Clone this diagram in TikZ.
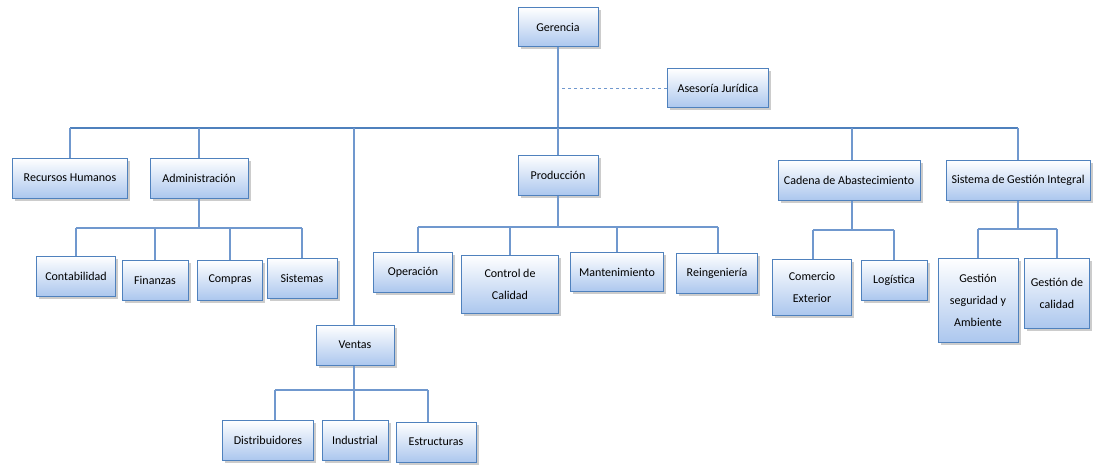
\documentclass[tikz,border=0pt]{standalone}
\usepackage{fontspec}
\setmainfont{Carlito}
\usetikzlibrary{shadows}

\definecolor{orgline}{RGB}{79,129,189}
\definecolor{orglink}{RGB}{112,152,206}
\definecolor{orgfill}{RGB}{172,199,238}

\begin{document}
\begin{tikzpicture}[x=1pt, y=1pt,
  box/.style={draw=orgline, line width=1pt, top color=white, bottom color=orgfill,
              align=center, inner sep=0pt,
              font=\fontsize{12}{22}\selectfont,
              drop shadow={shadow xshift=2.5pt, shadow yshift=-2.5pt, fill=black!40, opacity=0.5}},
  link/.style={draw=orglink, line width=1.3pt},
  trunk/.style={draw=orgline, line width=2.4pt}]
  \useasboundingbox (0,0) rectangle (1098,-464);
  % top
  \node[box, minimum width=80, minimum height=39] (ger) at (558,-27) {Gerencia};
  \node[box, minimum width=101, minimum height=39] (ase) at (718,-88) {Asesoría Jurídica};
  % first level
  \node[box, minimum width=115, minimum height=40] (rh) at (70,-178) {Recursos Humanos};
  \node[box, minimum width=98, minimum height=40] (adm) at (199,-178) {Administración};
  \node[box, minimum width=80, minimum height=40] (pro) at (558,-175) {Producción};
  \node[box, minimum width=142, minimum height=40] (cad) at (849,-180) {Cadena de Abastecimiento};
  \node[box, minimum width=144, minimum height=40] (sgi) at (1018,-180) {Sistema de Gestión Integral};
  \node[box, minimum width=78, minimum height=40] (ven) at (355,-345) {Ventas};
  % administracion
  \node[box, minimum width=79, minimum height=40] (con) at (76,-276) {Contabilidad};
  \node[box, minimum width=66, minimum height=40] (fin) at (155,-280) {Finanzas};
  \node[box, minimum width=65, minimum height=40] (com) at (230,-280) {Compras};
  \node[box, minimum width=70, minimum height=40] (sis) at (302,-278) {Sistemas};
  % produccion
  \node[box, minimum width=79, minimum height=40] (ope) at (413,-272) {Operación};
  \node[box, minimum width=97, minimum height=58] (cal) at (510,-284) {Control de\\Calidad};
  \node[box, minimum width=93, minimum height=39] (man) at (617,-272) {Mantenimiento};
  \node[box, minimum width=81, minimum height=40] (rei) at (717,-273) {Reingeniería};
  % cadena
  \node[box, minimum width=79, minimum height=56] (cex) at (812,-287) {Comercio\\Exterior};
  \node[box, minimum width=66, minimum height=40] (log) at (894,-280) {Logística};
  % sistema de gestion
  \node[box, minimum width=80, minimum height=84] (gsa) at (978,-300) {Gestión\\seguridad y\\Ambiente};
  \node[box, minimum width=65, minimum height=70] (gca) at (1057,-293) {Gestión de\\calidad};
  % ventas
  \node[box, minimum width=91, minimum height=40] (dis) at (268,-440) {Distribuidores};
  \node[box, minimum width=66, minimum height=40] (ind) at (355,-440) {Industrial};
  \node[box, minimum width=80, minimum height=40] (est) at (436,-442) {Estructuras};

  \coordinate (bus) at (0,-128);
  \coordinate (abus) at (0,-228);
  \coordinate (pbus) at (0,-227);
  \coordinate (cbus) at (0,-230);
  \coordinate (sbus) at (0,-229);
  \coordinate (vbus) at (0,-390);

  % gerencia
  \draw[link] (ger.south) -- (ger.south |- bus);
  \draw[link, dashed, line width=1pt] (ase.west) -- (ase.west -| ger.south);
  \draw[trunk] (rh.north |- bus) -- (sgi.north |- bus);
  \foreach \n in {rh, adm, pro, sgi}
    \draw[link] (\n.north) -- (\n.north |- bus);
  \draw[link] ([xshift=3pt]cad.north) -- ([xshift=3pt]cad.north |- bus);
  \draw[link] ([xshift=-1pt]ven.north) -- ([xshift=-1pt]ven.north |- bus);
  % administracion
  \draw[link] (adm.south) -- (adm.south |- abus);
  \draw[link] (con.north |- abus) -- (sis.north |- abus);
  \foreach \n in {con, fin, com, sis}
    \draw[link] (\n.north) -- (\n.north |- abus);
  % produccion
  \draw[link] (pro.south) -- (pro.south |- pbus);
  \draw[link] ([xshift=5pt]ope.north |- pbus) -- ([xshift=1pt]rei.north |- pbus);
  \draw[link] ([xshift=5pt]ope.north) -- ([xshift=5pt]ope.north |- pbus);
  \draw[link] (cal.north) -- (cal.north |- pbus);
  \draw[link] (man.north) -- (man.north |- pbus);
  \draw[link] ([xshift=1pt]rei.north) -- ([xshift=1pt]rei.north |- pbus);
  % cadena
  \draw[link] ([xshift=3pt]cad.south) -- ([xshift=3pt]cad.south |- cbus);
  \draw[link] ([xshift=1pt]cex.north |- cbus) -- (log.north |- cbus);
  \draw[link] ([xshift=1pt]cex.north) -- ([xshift=1pt]cex.north |- cbus);
  \draw[link] (log.north) -- (log.north |- cbus);
  % sistema de gestion
  \draw[link] (sgi.south) -- (sgi.south |- sbus);
  \draw[link] (gsa.north |- sbus) -- (gca.north |- sbus);
  \draw[link] (gsa.north) -- (gsa.north |- sbus);
  \draw[link] (gca.north) -- (gca.north |- sbus);
  % ventas
  \draw[link] ([xshift=-1pt]ven.south) -- ([xshift=-1pt]ind.north);
  \draw[link] ([xshift=7pt]dis.north |- vbus) -- ([xshift=-8pt]est.north |- vbus);
  \draw[link] ([xshift=7pt]dis.north) -- ([xshift=7pt]dis.north |- vbus);
  \draw[link] ([xshift=-8pt]est.north) -- ([xshift=-8pt]est.north |- vbus);
\end{tikzpicture}
\end{document}
